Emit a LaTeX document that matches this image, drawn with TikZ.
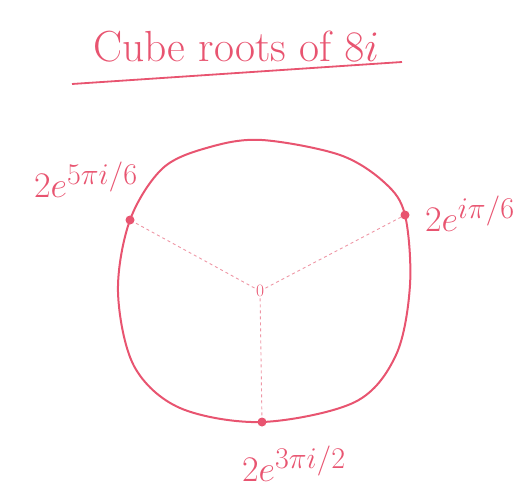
\documentclass[tikz,border=0pt]{standalone}
\usepackage{tikz}
\usepackage{graphicx}
\usepackage{xcolor}
\usetikzlibrary{positioning,calc}
\definecolor{skpink}{RGB}{232,84,112}
\definecolor{sklight}{RGB}{238,150,165}
\tikzset{
  curve/.style={draw=skpink, line width=2pt, line join=round},
  root/.style={circle, fill=skpink, inner sep=0pt, minimum size=9pt},
  spoke/.style={draw=sklight, dashed, line width=0.9pt},
  lbl/.style={text=skpink, font=\Huge, scale=1.45, inner sep=0pt},
  ttl/.style={text=skpink, font=\Huge, scale=1.75, inner sep=0pt}
}

\begin{document}
\begin{tikzpicture}[x=1pt, y=-1pt]
    \useasboundingbox (0,0) rectangle (529,495);
    % title
    \node[ttl] (title) at (236,47) {Cube roots of $8i$};
    \coordinate (ul1) at (72,84);
    \coordinate (ul2) at (402,62);
    \draw[skpink, line width=1.8pt] (ul1) -- (ul2);
    % the roots on the circle
    \coordinate (pl) at (130,220);
    \coordinate (pr) at (405,215);
    \coordinate (pb) at (262,422);
    \draw[curve] plot[smooth cycle, tension=0.55] coordinates {
      (262,140) (340,155) (385,183) (pr) (410,285) (396,355) (355,402) (pb)
      (180,408) (134,366) (118,292) (pl) (163,168) (210,147)};
    \node[text=skpink, font=\Huge, scale=0.7, inner sep=2pt] (o) at (260,291) {0};
    \draw[spoke] (o) -- (pl);
    \draw[spoke] (o) -- (pr);
    \draw[spoke] (o) -- (pb);
    \node[root] (rl) at (pl) {};
    \node[root] (rr) at (pr) {};
    \node[root] (rb) at (pb) {};
    % labels
    \node[lbl] (ll) at (86,180) {$2e^{5\pi i/6}$};
    \node[lbl] (lr) at (470,214) {$2e^{i\pi/6}$};
    \node[lbl] (lb) at (294,464) {$2e^{3\pi i/2}$};
\end{tikzpicture}
\end{document}
